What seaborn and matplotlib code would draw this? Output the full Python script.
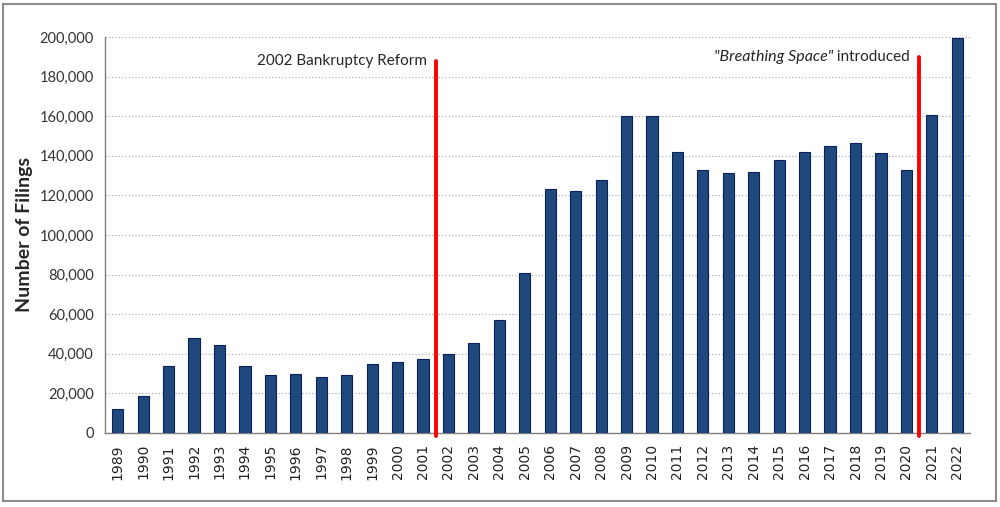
import numpy as np
import pandas as pd
import seaborn as sns
import matplotlib.pyplot as plt
from matplotlib.patches import Rectangle
from matplotlib.ticker import FuncFormatter, FixedLocator

years = [str(y) for y in range(1989, 2023)]
filings = [12000, 18700, 33800, 48000, 44400, 33800, 29300, 29800, 28300, 29300,
           34800, 36000, 37400, 39900, 45400, 57000, 81000, 123000, 122000, 128000,
           160000, 160000, 141800, 133000, 131500, 132000, 137700, 142000, 144800,
           146500, 141600, 132600, 160700, 199500]

events = ["2002 Bankruptcy Reform", "\"Breathing Space\" introduced"]
event_pos = [12.5, 31.5]
event_top = [188000, 190000]

df = pd.DataFrame({'Year': years, 'Filings': filings})

sns.set_style('white')
plt.rcParams['font.family'] = ['Lato', 'DejaVu Sans']

fig = plt.figure(figsize=(10, 5.07), dpi=100)
ax = fig.add_axes([0.105, 0.146, 0.865, 0.781])

sns.barplot(data=df, x='Year', y='Filings', color='#1F497D', width=0.44,
            edgecolor='#0B1F5C', linewidth=0.8, saturation=1, ax=ax, zorder=3)

ax.set_ylim(0, 200000)
ax.set_xlim(-0.5, len(years) - 0.5)
ax.yaxis.set_major_locator(FixedLocator(np.arange(0, 200001, 20000)))
ax.yaxis.set_major_formatter(FuncFormatter(lambda v, p: f'{int(v):,}'))
ax.grid(axis='y', linestyle=(0, (1, 2)), color='#A6A6A6', linewidth=0.8, zorder=0)

for lab in ax.get_yticklabels():
    lab.set_fontsize(10.5)
    lab.set_color('#333333')
ax.tick_params(axis='y', length=0, pad=8)
ax.tick_params(axis='x', which='major', length=0, pad=8)
ax.set_xticks(np.arange(-0.5, len(years), 1), minor=True)
ax.tick_params(axis='x', which='minor', length=5, color='#808080', width=1)
plt.setp(ax.get_xticklabels(), rotation=90, fontsize=10, family='DejaVu Sans', color='#222222')

for s in ['top', 'right']:
    ax.spines[s].set_visible(False)
for s in ['left', 'bottom']:
    ax.spines[s].set_color('#808080')
    ax.spines[s].set_linewidth(1)

ax.set_xlabel('')
ax.set_ylabel('Number of Filings', fontsize=14, fontweight='bold', labelpad=5)

for pos, top in zip(event_pos, event_top):
    ax.plot([pos, pos], [-1500, top], color='#FF0000', linewidth=2.8, zorder=5, clip_on=False)

ax.text(event_pos[0] - 0.35, event_top[0], events[0], ha='right', va='center', fontsize=11)
tail = ax.text(event_pos[1] - 0.35, event_top[1], ' introduced', ha='right', va='center',
               fontsize=11)
ax.annotate('"Breathing Space"', xy=(0, 0.5), xycoords=tail, ha='right', va='center',
            fontsize=11.5, fontstyle='italic')

fig.add_artist(Rectangle((0.003, 0.012), 0.993, 0.98, transform=fig.transFigure,
                         fill=False, edgecolor='#8C8C8C', linewidth=1.5))

fig.savefig('out.png', dpi=100)
